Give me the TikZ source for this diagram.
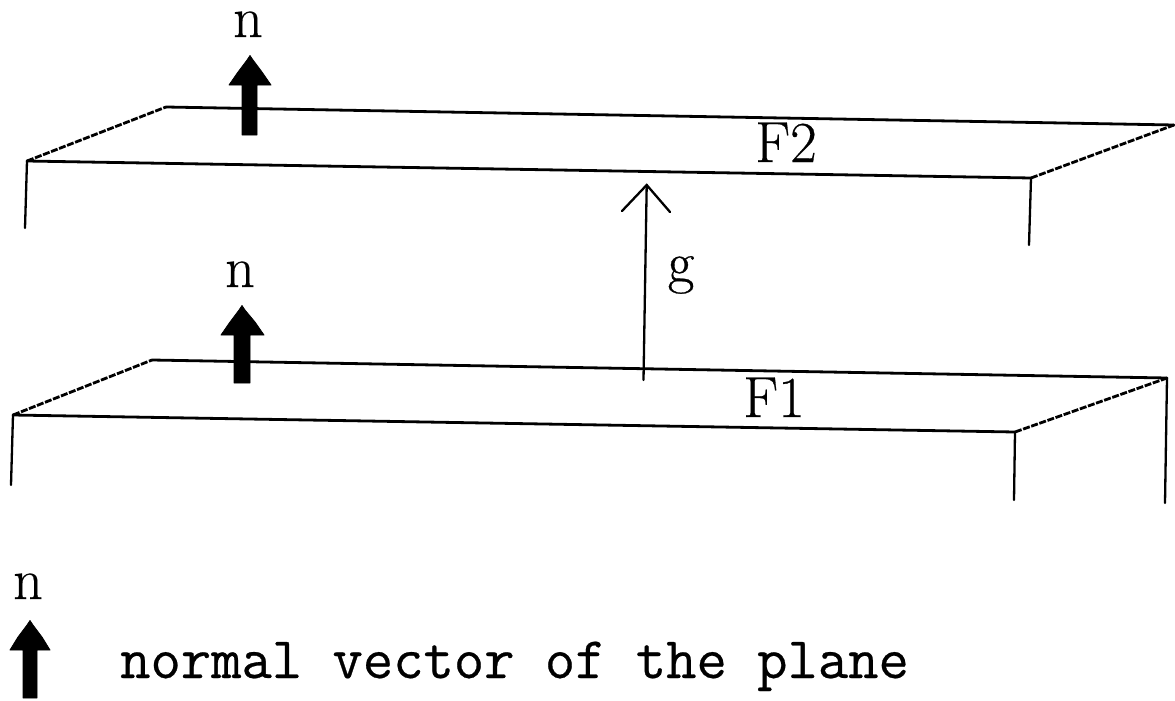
\documentclass[tikz,border=0pt]{standalone}
\usepackage{fontspec}
\newfontfamily\legendfont[FakeBold=0.45]{Latin Modern Mono}
\newfontfamily\labelfont[FakeBold=0.5]{Latin Modern Roman}
\begin{document}
\begin{tikzpicture}[x=1pt,y=-1pt,
  edge/.style={line width=2.8pt,line cap=round,line join=round},
  thinedge/.style={line width=2.3pt,line cap=round},
  dashedge/.style={line width=2.8pt,dash pattern=on 7pt off 1.6pt},
  lbl/.style={font=\fontsize{58}{60}\selectfont\labelfont,inner sep=0pt,anchor=base},
  legend/.style={font=\fontsize{58.9}{60}\selectfont\legendfont,inner sep=0pt,anchor=base west},
  fatarrow/.style={fill=black,draw=black,line width=0.8pt,line join=round}]
\useasboundingbox (0,0) rectangle (1175,701);
\fill[white] (0,0) rectangle (1175,701);
% upper plane F2
\coordinate (a1) at (27,161);
\coordinate (a2) at (166,107);
\coordinate (a3) at (1174,125);
\coordinate (a4) at (1031,178);
\coordinate (a5) at (25,228);
\coordinate (a6) at (1029,245);
\draw[edge] (a2) -- (a3);
\draw[edge] (a1) -- (a4);
\draw[dashedge] (a1) -- (a2);
\draw[dashedge] (a4) -- (a3);
\draw[thinedge] (a1) -- (a5);
\draw[thinedge] (a4) -- (a6);
% lower plane F1
\coordinate (b1) at (13,415);
\coordinate (b2) at (152,360);
\coordinate (b3) at (1167,378);
\coordinate (b4) at (1015,432);
\coordinate (b5) at (11,485);
\coordinate (b6) at (1014,500);
\coordinate (b7) at (1165,503);
\draw[edge] (b2) -- (b3);
\draw[edge] (b1) -- (b4);
\draw[dashedge] (b1) -- (b2);
\draw[dashedge] (b4) -- (b3);
\draw[thinedge] (b1) -- (b5);
\draw[thinedge] (b4) -- (b6);
\draw[thinedge] (b3) -- (b7);
% g arrow
\coordinate (g0) at (643.5,380);
\coordinate (g1) at (646.7,185);
\coordinate (gl) at (622,211);
\coordinate (gr) at (670,212);
\draw[thinedge] (g0) -- (g1);
\draw[thinedge] (gl) -- (g1) -- (gr);
% normal arrows
\draw[fatarrow] (250,55.5) -- (253,60) -- (262,72) -- (271,85) -- (257,85) -- (257,135) -- (242,135) -- (242,85) -- (229,85) -- (238,72) -- (247,60) -- cycle;
\draw[fatarrow] (242,305.5) -- (245,310) -- (255,322) -- (264,335) -- (250,335) -- (250,383) -- (234,383) -- (234,335) -- (221,335) -- (230,322) -- (239,310) -- cycle;
\draw[fatarrow] (30,620.5) -- (33,625) -- (42,637) -- (50,650) -- (37,650) -- (37,698) -- (23,698) -- (23,650) -- (10,650) -- (18,637) -- (27,625) -- cycle;
% labels
\node[lbl] (n1) at (248,37) {n};
\node[lbl] (n2) at (240,287) {n};
\node[lbl] (n3) at (28,599) {n};
\node[lbl] (f2) at (786,162) {F2};
\node[lbl] (f1) at (774,417) {F1};
\node[lbl] (g) at (681,282) {g};
\node[legend] (t) at (120,678) {normal vector of the plane};
\end{tikzpicture}
\end{document}
